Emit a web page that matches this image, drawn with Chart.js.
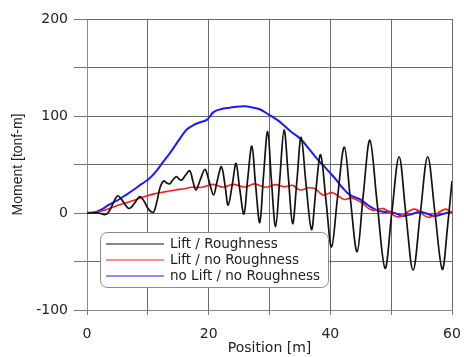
<!DOCTYPE html>
<html><head><meta charset="utf-8">
<script src="https://cdn.jsdelivr.net/npm/chart.js@4"></script>
<style>html,body{margin:0;padding:0;background:#fff;overflow:hidden}</style>
</head><body>
<canvas id="c" width="464" height="357"></canvas>
<script>
const seriesLabels = ['Lift / Roughness', 'Lift / no Roughness', 'no Lift / no Roughness'];
const xTickLabels = [0, 20, 40, 60];
const yTickLabels = [-100, 0, 100, 200];

const blackX = [0,1,2,2.7,3.3,4,4.6,5.1,5.8,6.8,7.3,7.8,8.7,9.4,10.1,10.9,11.5,12,12.6,13.1,13.6,14.1,14.7,15.2,15.6,16.2,16.9,17.4,17.9,18.6,19.4,20.1,20.8,21.4,22.1,22.7,23.2,23.9,24.5,25.1,25.8,26.4,27.1,27.7,28.4,29,29.7,30.3,31,31.7,32.4,33.1,33.8,34.5,35.2,36,36.9,37.6,38.4,39.3,40.2,41.2,42.3,43.3,44.4,45.4,46.5,47.7,49,50.1,51.3,52.4,53.6,54.8,56,57.2,58.4,59.3,60];
const blackY = [0,0,0,-1.5,-1,6,14,17.8,13,4.8,6,10,16.8,12,4,0.7,12,26,33,31,30,34,37.5,34.5,34,39,43.5,33,23.7,34,45,32,18.6,33,47.7,28,8,30,51,25,-1,34,69,30,-10,37,84,35,-14,36,85.6,37,-11,33,78,30,-17,22,60,12,-35,17,68,14,-40,18,75,10,-57,0,58,0,-59,0,58,0,-58,-12,33];

const redX = [0,1.5,3,5.1,7.9,9.5,11.2,13,14.5,16,17.2,18.9,20.7,22.4,24,26,27.5,29.3,31,32.5,33.8,35,36.5,37.5,38.8,40.3,42.3,43.5,44.8,46.8,48.7,51.2,53.8,56.2,58.9,60];
const redY = [0,1,3,8,13.4,17,20,22,23.7,25,26.5,26.5,29.5,26.5,29.5,26.8,30,26.5,29.3,27,28.5,23.7,26,25,18.5,21,14,15.5,12,3,4.5,-4,4,-4.5,4,0];

const blueX = [0,1,1.6,2.5,3.5,5.1,6.5,7.9,9,10.1,11.5,12.3,13.6,15.3,16.4,17.5,18.6,19.7,20.8,22,23.5,24.5,26,27,28.4,29.8,30.5,31.5,32.3,33.5,35,36.5,37.8,39,40,41,42,43.2,44.9,46.2,47.6,49,49.8,51,52,53.5,54.7,56,57.2,58.5,60];
const blueY = [0,0.5,1.4,4,8,13.4,19,25,30,34.7,44,51,61.5,77,86,90.7,93.5,96,104,107,108.6,109.6,110,109,107,101.7,99,95,90.7,84,77,66,56,48,41,34,26,18.6,14,8,3,1,1.4,-1,-3,-1,1.3,-1,-3,-1,1.4];

const seriesColors = ['#111111', '#ff1a1a', '#1a1aff'];
const seriesWidths = [1.7, 1.6, 2];

function pts(xs, ys){ return xs.map((x,i)=>({x:x, y:ys[i]})); }

const legendBox = {
  id: 'legendBox',
  afterDatasetsDraw(chart){
    const ctx = chart.ctx, a = chart.chartArea;
    const bx = a.left + 13, by = a.top + 213, bw = 228, bh = 55, r = 7;
    ctx.save();
    ctx.beginPath();
    ctx.roundRect(bx + 0.5, by + 0.5, bw, bh, r);
    ctx.fillStyle = '#ffffff';
    ctx.fill();
    ctx.strokeStyle = '#8a8a8a';
    ctx.lineWidth = 1;
    ctx.stroke();
    ctx.font = '13.5px "DejaVu Sans"';
    ctx.textBaseline = 'middle';
    ctx.textAlign = 'left';
    chart.data.datasets.forEach((ds, i) => {
      const y = by + 11.5 + i * 16;
      ctx.beginPath();
      ctx.moveTo(bx + 6, y + 0.5);
      ctx.lineTo(bx + 64, y + 0.5);
      ctx.strokeStyle = ds.borderColor;
      ctx.lineWidth = 1.2;
      ctx.stroke();
      ctx.fillStyle = '#222';
      ctx.fillText(ds.label, bx + 70, y + 1);
    });
    ctx.restore();
  }
};

new Chart(document.getElementById('c'), {
  type: 'line',
  data: {
    datasets: [
      {label: seriesLabels[0], data: pts(blackX, blackY)},
      {label: seriesLabels[1], data: pts(redX, redY)},
      {label: seriesLabels[2], data: pts(blueX, blueY)}
    ].map((d,i)=>Object.assign(d, {
      borderColor: seriesColors[i], borderWidth: seriesWidths[i],
      pointRadius: 0, fill: false, tension: 0.35
    }))
  },
  options: {
    responsive: false,
    animation: false,
    layout: {padding: {top: 19, right: 12, left: 0, bottom: 0}},
    plugins: {legend: {display: false}, tooltip: {enabled: false}},
    scales: {
      x: {
        type: 'linear', min: 0, max: 60,
        afterFit(s){ s.height = 47; s.paddingLeft = 0; s.paddingRight = 0; },
        ticks: {stepSize: 10, padding: 11, color: '#222', maxRotation: 0,
          font: {family: '"DejaVu Sans"', size: 14},
          callback: v => xTickLabels.includes(v) ? String(v) : ''},
        grid: {color: '#6a6a6a', lineWidth: 1, tickLength: 5, tickColor: '#777'},
        border: {color: '#8a8a8a'},
        title: {display: true, text: 'Position [m]', color: '#222',
          font: {family: '"DejaVu Sans"', size: 14}, padding: {top: 0, bottom: 0}}
      },
      y: {
        type: 'linear', min: -100, max: 200,
        afterFit(s){ s.width = 87; s.paddingTop = 0; s.paddingBottom = 0; },
        ticks: {stepSize: 50, padding: 6, color: '#222',
          font: {family: '"DejaVu Sans"', size: 14},
          callback: v => yTickLabels.includes(v) ? String(v) : ''},
        grid: {color: '#6a6a6a', lineWidth: 1, tickLength: 13, tickColor: '#777'},
        border: {color: '#8a8a8a'},
        title: {display: true, text: 'Moment [tonf-m]', color: '#222',
          font: {family: '"Liberation Sans"', size: 14}, padding: {top: 10, bottom: 0}}
      }
    }
  },
  plugins: [legendBox]
});
</script>
</body></html>
